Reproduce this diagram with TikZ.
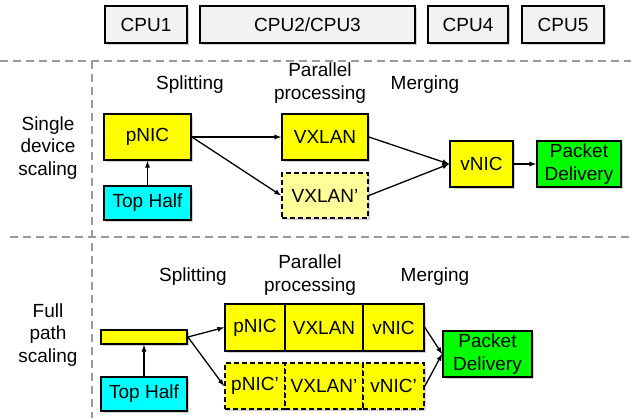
\documentclass[tikz,border=0pt]{standalone}
\usepackage{fontspec}
\setmainfont{Liberation Sans}
\usepackage{tikz}
\usetikzlibrary{arrows,shapes,shadows}
\definecolor{boxyellow}{HTML}{FFFF00}
\definecolor{paleyellow}{HTML}{FFFF99}
\definecolor{boxcyan}{HTML}{00FFFF}
\definecolor{boxgreen}{HTML}{00FF00}
\definecolor{cpugray}{HTML}{F2F2F2}
\definecolor{sepgray}{HTML}{9A9A9A}
\tikzstyle{block}=[draw=black,line width=1.8pt,inner sep=0pt,align=center,drop shadow={shadow xshift=1.5pt,shadow yshift=-1.5pt,opacity=0.35}]
\tikzstyle{cpu}=[block,fill=cpugray,minimum height=37pt]
\tikzstyle{stage}=[block,fill=boxyellow,minimum height=46pt]
\tikzstyle{copy stage}=[stage,dash pattern=on 5pt off 3pt]
\tikzstyle{arrow}=[draw,line width=1.3pt,-latex]
\tikzstyle{caption}=[align=center]
\tikzstyle{separator}=[sepgray,line width=1.4pt,dash pattern=on 8pt off 5pt]

\begin{document}
\begin{tikzpicture}[x=1pt,y=-1pt,font=\fontsize{19}{22.5}\selectfont]
    \useasboundingbox (0,0) rectangle (631,418);
    % cores
    \foreach \pos/\name/\boxw/\txt in {{(146,24.5)/c1/82/CPU1}, {(307.5,24.5)/c23/215/CPU2\slash CPU3},
        {(468,24.5)/c4/80/CPU4}, {(563,24.5)/c5/82/CPU5}}
        \node[cpu,minimum width=\boxw pt] (\name) at \pos {\txt};
    % separators
    \draw[separator] (0,61) -- (631,61);
    \draw[separator] (10,237) -- (631,237);
    \draw[separator] (92,61) -- (92,418);
    % single device scaling
    \node[caption] (single) at (48,148) {Single\\device\\scaling};
    \node[caption] (split1) at (190,85) {Splitting};
    \node[caption] (par1) at (320,83) {Parallel\\processing};
    \node[caption] (merge1) at (425,85) {Merging};
    \node[stage,minimum width=87pt] (pnic) at (147.5,137) {pNIC};
    \node[block,fill=boxcyan,minimum width=87pt,minimum height=34pt] (top1) at (147.5,203) {Top Half};
    \node[stage,minimum width=86pt] (vx) at (325,137) {VXLAN};
    \node[copy stage,fill=paleyellow,minimum width=86pt,minimum height=45pt] (vxc) at (325,195.5) {VXLAN’};
    \node[stage,minimum width=63pt] (vnic) at (481.5,164) {vNIC};
    \node[stage,fill=boxgreen,minimum width=84pt] (pd1) at (579,164) {Packet\\Delivery};
    \path[arrow] (top1) -- (pnic);
    \foreach \source/\dest in {pnic/vx, pnic/vxc, vx/vnic, vxc/vnic, vnic/pd1}
        \path[arrow] (\source.east) -- (\dest.west);
    % full path scaling
    \node[caption] (full) at (48,335) {Full\\path\\scaling};
    \node[caption] (split2) at (193,277) {Splitting};
    \node[caption] (par2) at (310,275) {Parallel\\processing};
    \node[caption] (merge2) at (435,277) {Merging};
    \node[stage,minimum width=86pt,minimum height=14pt] (bar) at (144,337) {};
    \node[block,fill=boxcyan,minimum width=86pt,minimum height=34pt] (top2) at (144,394) {Top Half};
    \foreach \x/\boxw/\name/\txt in {255/60/pn/pNIC, 324/78/vxl/VXLAN, 393.5/61/vn/vNIC} {
        \node[stage,minimum width=\boxw pt,minimum height=47pt] (\name) at (\x,327.5) {\txt};
        \node[copy stage,minimum width=\boxw pt] (\name c) at (\x,386) {\txt’};
    }
    \node[stage,fill=boxgreen,minimum width=89pt] (pd2) at (487.5,354) {Packet\\Delivery};
    \path[arrow] (top2) -- (bar);
    \path[arrow] (bar.east) -- (pn.west);
    \path[arrow] (bar.east) -- (pnc.west);
    \path[arrow] (vn.east) -- (pd2.west);
    \path[arrow] (vnc.east) -- (pd2.west);
\end{tikzpicture}
\end{document}
